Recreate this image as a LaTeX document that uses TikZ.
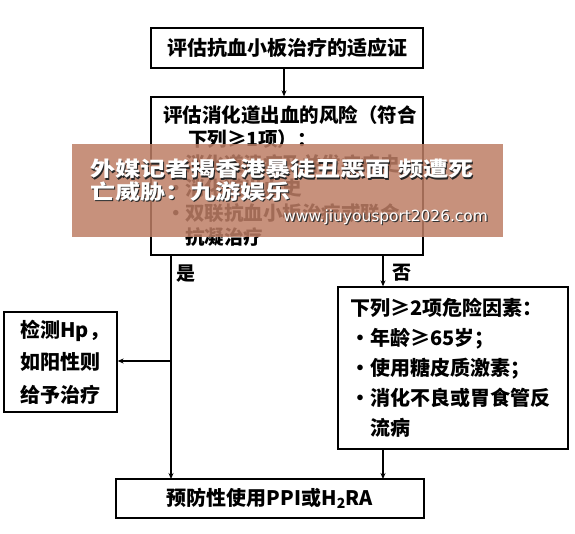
\documentclass[tikz,border=0pt]{standalone}
\usepackage{fontspec}
\setmainfont{Noto Sans CJK SC}
\newfontfamily\bannerfont{Noto Sans CJK SC}[FakeStretch=1.22]
\newfontfamily\urlfont{DejaVu Sans}
\usetikzlibrary{arrows.meta}
\definecolor{bannerc}{RGB}{190,126,102}
\begin{document}
\begin{tikzpicture}[x=1pt,y=-1pt,
  box/.style={draw, line width=1.3pt, inner sep=0pt},
  arr/.style={line width=1.1pt, -{Stealth[length=6pt,width=5pt]}},
  ln/.style={line width=1.1pt},
  lbl/.style={font=\bfseries\fontsize{19}{22}\selectfont, inner sep=0pt}]
\useasboundingbox (0,0) rectangle (575,534);
\fill[white] (0,0) rectangle (575,534);

% boxes
\node[box, minimum width=272pt, minimum height=40pt,
      font=\bfseries\fontsize{20}{24}\selectfont] (b1) at (287,48) {评估抗血小板治疗的适应证};

\node[box, minimum width=272pt, minimum height=158pt, text width=248pt, align=left,
      font=\bfseries\fontsize{19.5}{24.5}\selectfont] (b2) at (287,176)
  {评估消化道出血的风险（符合\\
   \hspace*{25pt}下列≥1项）：\\
   \makebox[22pt][l]{\hspace{3pt}•}消化道溃疡及并发症病史\\
   \makebox[22pt][l]{\hspace{3pt}•}消化道出血史\\
   \makebox[22pt][l]{\hspace{3pt}•}双联抗血小板治疗或联合\\
   \hspace*{22pt}抗凝治疗};

\node[box, minimum width=113pt, minimum height=100pt, text width=80pt, align=left,
      font=\bfseries\fontsize{20}{32.5}\selectfont] (b3) at (60.5,362)
  {检测Hp，\\如阳性则\\给予治疗};

\node[box, minimum width=230pt, minimum height=162pt, text width=206pt, align=left,
      font=\bfseries\fontsize{20}{30}\selectfont] (b4) at (453,368)
  {下列≥2项危险因素：\\
   \makebox[20pt][c]{•}年龄≥65岁；\\
   \makebox[20pt][c]{•}使用糖皮质激素；\\
   \makebox[20pt][c]{•}消化不良或胃食管反\\
   \hspace*{20pt}流病};

\node[box, minimum width=308pt, minimum height=39pt,
      font=\bfseries\fontsize{20}{24}\selectfont] (b5) at (270,498.5)
  {预防性使用PPI或H\textsubscript{2}RA};

% connectors
\coordinate (lt) at (171,255);
\coordinate (lb) at (171,479);
\coordinate (lm) at (171,361);
\coordinate (rt) at (383,255);
\coordinate (rb) at (383,479);

\draw[arr] (b1.south -| 284,0) -- (b2.north -| 284,0);
\draw[arr] (lt) -- (lb);
\draw[arr] (lm) -- (lm -| b3.east);
\draw[arr] (rt) -- (rt |- b4.north);
\draw[arr] (rb |- b4.south) -- (rb);

\node[lbl] (yes) at (186,274) {是};
\node[lbl] (no) at (402,273) {否};

% overlay banner
\fill[bannerc, opacity=0.85] (72,144) rectangle (503,237);
\node[anchor=north west, inner sep=0pt, align=left, text=black!85,
      font=\bannerfont\bfseries\fontsize{20.5}{22.5}\selectfont] (bshadow) at (91.4,160.4)
  {外媒记者揭香港暴徒丑恶面\hspace{8pt}频遭死\\亡威胁：九游娱乐};
\node[anchor=north west, inner sep=0pt, align=left, text=white,
      font=\bannerfont\bfseries\fontsize{20.5}{22.5}\selectfont] (btext) at (90,159)
  {外媒记者揭香港暴徒丑恶面\hspace{8pt}频遭死\\亡威胁：九游娱乐};
\node[anchor=east, inner sep=0pt, text=black!80,
      font=\urlfont\fontsize{15.4}{17}\selectfont] (ushadow) at (489.2,218.2) {www.jiuyousport2026.com};
\node[anchor=east, inner sep=0pt, text=white,
      font=\urlfont\fontsize{15.4}{17}\selectfont] (utext) at (488,217) {www.jiuyousport2026.com};
\end{tikzpicture}
\end{document}
